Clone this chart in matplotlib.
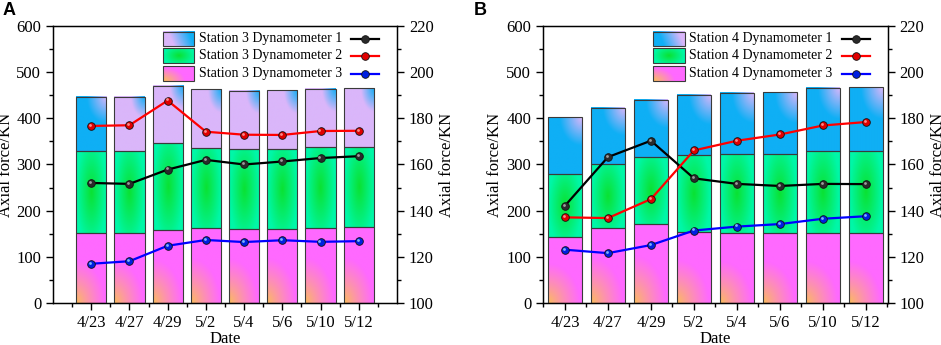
import numpy as np
import matplotlib
matplotlib.use("Agg")
import matplotlib.pyplot as plt
from matplotlib.image import BboxImage
from matplotlib.transforms import Bbox, TransformedBbox, offset_copy
from matplotlib.lines import Line2D
from matplotlib.patches import Rectangle
from matplotlib.ticker import MultipleLocator, FixedLocator

plt.rcParams['font.family'] = ['Liberation Serif', 'DejaVu Serif']

dates = ['4/23', '4/27', '4/29', '5/2', '5/4', '5/6', '5/10', '5/12']

# Station 3
s3_dyn1 = [152.0, 151.6, 157.8, 162.0, 160.0, 161.3, 162.8, 163.6]
s3_dyn2 = [176.7, 177.0, 187.7, 174.2, 172.9, 172.8, 174.5, 174.6]
s3_dyn3 = [117.0, 118.1, 124.8, 127.3, 126.4, 127.2, 126.5, 126.8]
# Station 4
s4_dyn1 = [142.1, 163.2, 170.3, 154.0, 151.6, 150.7, 151.6, 151.5]
s4_dyn2 = [137.1, 136.8, 145.0, 166.1, 170.3, 173.0, 176.9, 178.4]
s4_dyn3 = [123.1, 121.6, 125.1, 131.4, 133.1, 134.2, 136.5, 137.6]

ORANGE = np.array([250, 192, 85]) / 255
MAGENTA = np.array([255, 105, 255]) / 255
GCENTER = np.array([10, 226, 50]) / 255
GOUTER = np.array([0, 247, 168]) / 255
BLUE = np.array([15, 175, 245]) / 255
PURPLE = np.array([218, 182, 250]) / 255


def mix(c0, c1, t):
    t = np.clip(t, 0, 1)[..., None]
    return c0 * (1 - t) + c1 * t


def grad(kind, n=64):
    u = np.linspace(0, 1, n)[None, :] * np.ones((n, 1))
    v = np.linspace(0, 1, n)[:, None] * np.ones((1, n))  # row 0 = bottom
    if kind == 'mag':
        d = np.sqrt((u / 0.95) ** 2 + (v / 0.6) ** 2)
        return mix(ORANGE, MAGENTA, d ** 0.8)
    if kind == 'green':
        r = np.sqrt(((u - 0.5) / 0.55) ** 2 + ((v - 0.5) / 0.75) ** 2)
        return mix(GCENTER, GOUTER, r / 0.9)
    if kind == 'purple':
        d = np.sqrt(((1 - u) / 0.45) ** 2 + ((1 - v) / 0.4) ** 2)
        return mix(BLUE, PURPLE, d)
    if kind == 'blue':
        d = np.sqrt(((1 - u) / 0.65) ** 2 + ((1 - v) / 0.5) ** 2)
        return mix(PURPLE, BLUE, d)
    if kind == 'leg_pb':
        return mix(PURPLE, BLUE, (u - 0.25) / 0.65 + (v - 0.5) * 0.3)
    if kind == 'leg_bp':
        return mix(BLUE, PURPLE, (u - 0.25) / 0.65 + (v - 0.5) * 0.3)
    if kind == 'leg_mag':
        d = np.sqrt((u / 0.7) ** 2 + (v / 0.9) ** 2)
        return mix(ORANGE, MAGENTA, d)


def sphere_plot(ax2, x, vals, c, mc, hc, **kw):
    ax2.plot(x, vals, '-o', color=c, lw=1.6, ms=5.5, mfc=mc, mec='#111111',
             mew=0.6, zorder=5, **kw)
    tr = offset_copy(ax2.transData, fig=ax2.figure, x=-0.8, y=0.8, units='points')
    ax2.plot(x, vals, 'o', ms=2.0, mfc=hc, mec='none', transform=tr, zorder=6, alpha=0.8)


def panel(ax, station, d1, d2, d3, xlim, top_styles, leg_top):
    x = np.arange(1, len(dates) + 1)
    w = 0.79
    b1 = np.array(d1)
    b2 = b1 + np.array(d2)
    layers = [(d1, 0, ['mag'] * 8), (d2, b1, ['green'] * 8), (d3, b2, top_styles)]
    for vals, bot, styles in layers:
        bars = ax.bar(x, vals, w, bottom=bot, facecolor='none',
                      edgecolor='#3a3a3a', linewidth=0.8, zorder=3)
        for p, st in zip(bars.patches, styles):
            x0, y0 = p.get_xy()
            ax.imshow(grad(st), extent=[x0, x0 + p.get_width(), y0, y0 + p.get_height()],
                      origin='lower', aspect='auto', interpolation='bilinear', zorder=2)
    ax.set_xlim(*xlim)
    ax.set_ylim(0, 600)
    ax.set_aspect('auto')
    ax.set_xticks(x)
    ax.set_xticklabels(dates)
    ax.xaxis.set_minor_locator(FixedLocator(np.arange(0.5, 9.0, 1.0)))
    ax.yaxis.set_major_locator(MultipleLocator(100))
    ax.yaxis.set_minor_locator(MultipleLocator(50))
    ax.set_xlabel('Date', fontsize=12, labelpad=0)
    ax.set_ylabel('Axial force/KN', fontsize=12, labelpad=2)
    ax.tick_params(which='both', direction='out', labelsize=12, top=False)
    ax.tick_params(which='major', length=5, width=1)
    ax.tick_params(which='minor', length=3, width=1)
    for s in ax.spines.values():
        s.set_linewidth(1.0)

    ax2 = ax.twinx()
    styles = [('black', '#2a2a2a', '#bbbbbb'), ('#ff0000', '#e00000', '#ffb0b0'),
              ('#0000ff', '#0020e0', '#a0d8ff')]
    for vals, (c, mc, hc) in zip([d1, d2, d3], styles):
        sphere_plot(ax2, x, vals, c, mc, hc)
    ax2.set_ylim(100, 220)
    ax2.yaxis.set_major_locator(MultipleLocator(20))
    ax2.yaxis.set_minor_locator(MultipleLocator(10))
    ax2.set_ylabel('Axial force/KN', fontsize=12, labelpad=4)
    ax2.tick_params(which='both', direction='out', labelsize=12)
    ax2.tick_params(which='major', length=5, width=1)
    ax2.tick_params(which='minor', length=3, width=1)
    ax2.set_xlim(*xlim)

    # legend
    rows_y = [0.953, 0.892, 0.828]
    leg_kinds = [leg_top, 'green', 'leg_mag']
    for i, (yy, k) in enumerate(zip(rows_y, leg_kinds)):
        bb = Bbox.from_extents(0.319, yy - 0.027, 0.411, yy + 0.027)
        im = BboxImage(TransformedBbox(bb, ax2.transAxes), interpolation='bilinear',
                       origin='lower')
        im.set_data(grad(k))
        im.set_zorder(6)
        ax2.add_artist(im)
        ax2.add_artist(Rectangle((0.319, yy - 0.027), 0.092, 0.054, transform=ax2.transAxes,
                                 fill=False, edgecolor='#3a3a3a', lw=0.8, zorder=7))
        ax2.text(0.424, yy, f'Station {station} Dynamometer {i + 1}', transform=ax2.transAxes,
                 va='center', ha='left', fontsize=10, zorder=7)
        c, mc, hc = styles[i]
        ax2.add_artist(Line2D([0.866, 0.948], [yy, yy], transform=ax2.transAxes, color=c,
                              lw=1.6, zorder=7))
        ax2.add_artist(Line2D([0.907], [yy], transform=ax2.transAxes, marker='o', ms=5.5,
                              mfc=mc, mec='#111111', mew=0.6, zorder=8))
    return ax2


fig = plt.figure(figsize=(9.41, 3.45), dpi=100)
axA = fig.add_axes([0.0563, 0.1217, 0.3656, 0.803])
axB = fig.add_axes([0.577, 0.1217, 0.3666, 0.803])

panel(axA, 3, s3_dyn1, s3_dyn2, s3_dyn3, (0, 9),
      ['blue'] + ['purple'] * 7, 'leg_pb')
panel(axB, 4, s4_dyn1, s4_dyn2, s4_dyn3, (0.49, 8.51),
      ['blue'] * 8, 'leg_bp')

fig.text(0.003, 0.995, 'A', fontsize=13, fontweight='bold', family='Liberation Sans',
         va='top', ha='left')
fig.text(0.503, 0.995, 'B', fontsize=13, fontweight='bold', family='Liberation Sans',
         va='top', ha='left')

fig.savefig('out.png', dpi=100)
